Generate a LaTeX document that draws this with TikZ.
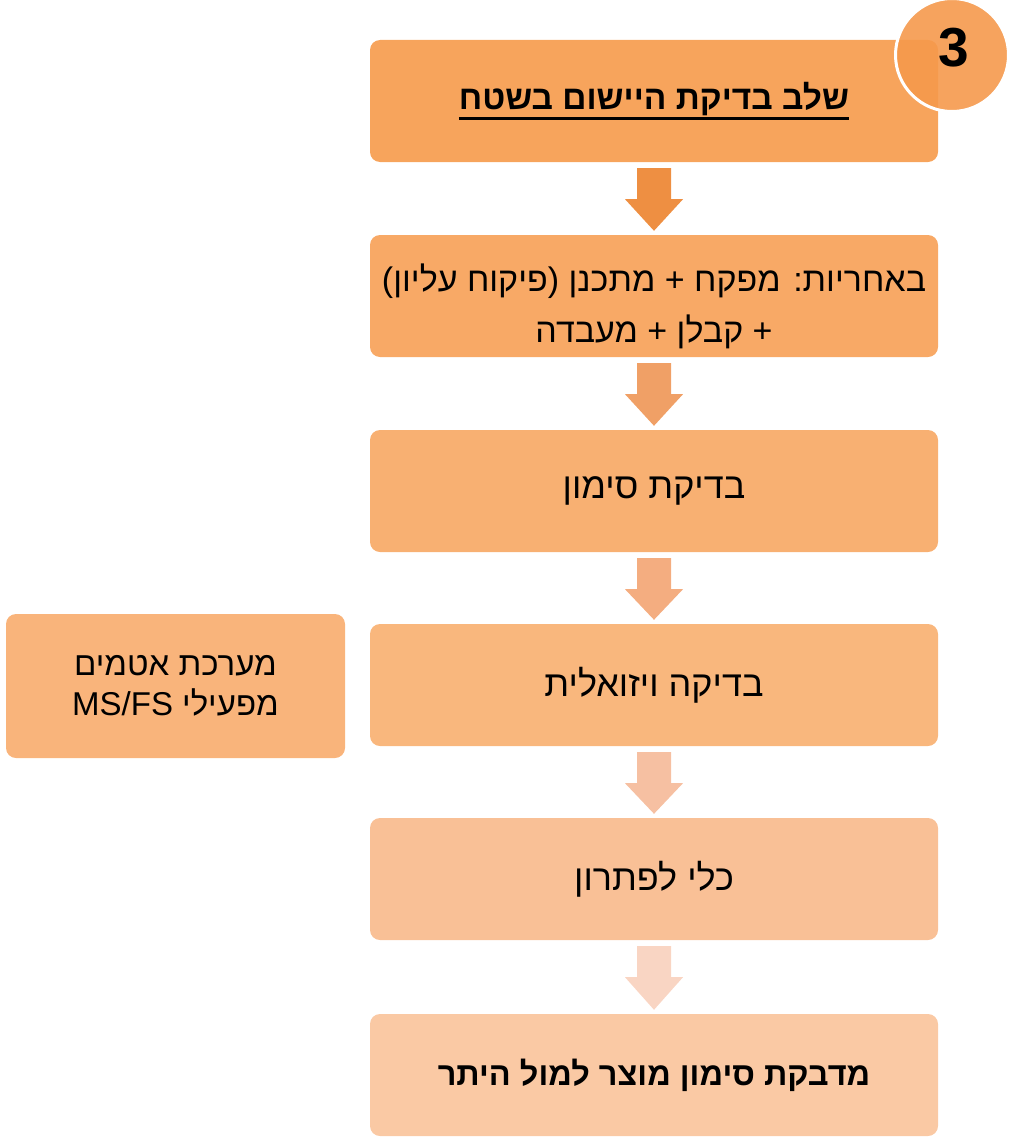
\documentclass[tikz,border=0pt]{standalone}
\usepackage{fontspec}
\setmainfont{Liberation Sans}
\newfontfamily\heb[Script=Hebrew]{Liberation Sans}
\TeXXeTstate=1
\usetikzlibrary{calc}
\definecolor{cA}{RGB}{247,164,92}
\definecolor{cB}{RGB}{248,169,102}
\definecolor{cC}{RGB}{248,176,114}
\definecolor{cD}{RGB}{249,183,125}
\definecolor{cE}{RGB}{249,192,150}
\definecolor{cF}{RGB}{250,201,164}
\definecolor{cSide}{RGB}{249,180,123}
\definecolor{aA}{RGB}{238,143,66}
\definecolor{aB}{RGB}{240,160,102}
\definecolor{aC}{RGB}{244,173,128}
\definecolor{aD}{RGB}{246,192,162}
\definecolor{aE}{RGB}{249,213,195}
\definecolor{cCirc}{RGB}{245,153,76}
\newcommand\flowarrow[3]{\fill[#3] ([shift={(-17,6)}]#1.south) -- ([shift={(17,6)}]#1.south) -- ([shift={(17,37)}]#1.south) -- ([shift={(29,37)}]#1.south) -- ([shift={(0,-4)}]#2.north) -- ([shift={(-29,37)}]#1.south) -- ([shift={(-17,37)}]#1.south) -- cycle;}
\newcommand\myuline[1]{\vtop{\hbox{#1}\kern1pt\hrule height 2.5pt}}
\tikzset{
  stepbox/.style={rectangle, rounded corners=10pt, minimum width=568pt, minimum height=122pt, inner sep=0pt, align=center, font=\heb\fontsize{36}{52}\selectfont},
  sidebox/.style={rectangle, rounded corners=10pt, minimum width=339pt, minimum height=144pt, inner sep=0pt, align=center, font=\heb\fontsize{33}{40}\selectfont},
  steptext/.style={inner sep=0pt, align=center, font=\heb\fontsize{34}{51}\selectfont},
}
\begin{document}
\begin{tikzpicture}[x=1pt,y=-1pt]
\useasboundingbox (0,0) rectangle (1012,1140);
\node[stepbox, fill=cA] (b1) at (654,101) {};
\node[steptext, font=\heb\bfseries\fontsize{33.5}{40}\selectfont] (t1) at (654,101) {\myuline{\beginR שלב בדיקת היישום בשטח\endR}};
\node[stepbox, fill=cB] (b2) at (654,296) {};
\node[steptext] (t2) at (654,306) {\beginR באחריות: מפקח + מתכנן (פיקוח עליון)\endR\\ \beginR + קבלן + מעבדה\endR};
\node[stepbox, fill=cC] (b3) at (654,491) {\beginR בדיקת סימון\endR};
\node[stepbox, fill=cD] (b4) at (654,685) {\beginR בדיקה ויזואלית\endR};
\node[stepbox, fill=cE] (b5) at (654,879) {\beginR כלי לפתרון\endR};
\node[stepbox, fill=cF, font=\heb\bfseries\fontsize{32.5}{40}\selectfont] (b6) at (654,1075) {\beginR מדבקת סימון מוצר למול היתר\endR};
\node[sidebox, fill=cSide] (s1) at (175.5,686) {\beginR מערכת אטמים\endR\\ \beginR מפעילי \beginL MS/FS\endL\endR};
\flowarrow{b1}{b2}{aA}
\flowarrow{b2}{b3}{aB}
\flowarrow{b3}{b4}{aC}
\flowarrow{b4}{b5}{aD}
\flowarrow{b5}{b6}{aE}
\node[circle, minimum size=113pt, inner sep=0pt, fill=cCirc, fill opacity=0.9, draw=white, line width=3pt] (c3) at (952,55) {};
\node[font=\bfseries\fontsize{55}{55}\selectfont, inner sep=0pt] (n3) at (954,48) {3};
\end{tikzpicture}
\end{document}
